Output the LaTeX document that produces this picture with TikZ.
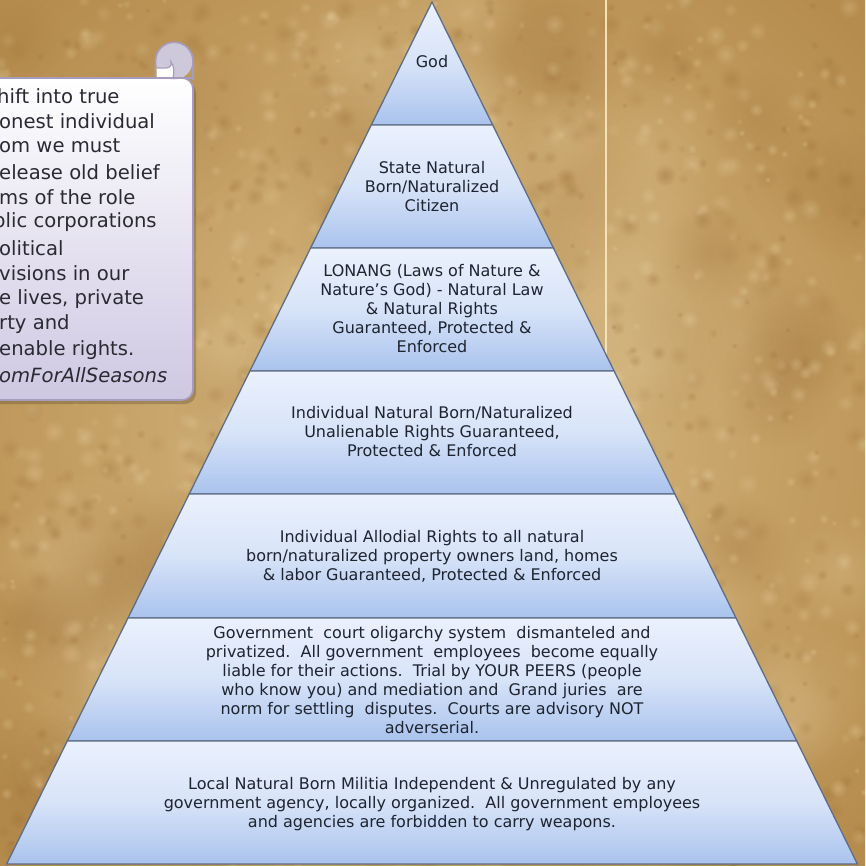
\documentclass[tikz,border=0pt]{standalone}
\usepackage{fontspec}
\setmainfont{DejaVu Sans}
\usetikzlibrary{fadings}
\tikzfading[name=softblob, inner color=transparent!0, outer color=transparent!100]
\definecolor{bgmid}{HTML}{CFAE70}
\definecolor{bgin}{HTML}{D9BD86}
\definecolor{bgout}{HTML}{B68C4E}
\definecolor{bgdark}{HTML}{94662F}
\definecolor{bglight}{HTML}{ECD7A6}
\definecolor{layertop}{HTML}{EBF1FD}
\definecolor{layerbot}{HTML}{A9C3ED}
\definecolor{layeredge}{HTML}{5E6D86}
\definecolor{pyrtext}{HTML}{1E2430}
\definecolor{scrolltop}{HTML}{FFFFFF}
\definecolor{scrollbot}{HTML}{CEC7E2}
\definecolor{scrolledge}{HTML}{A59CBE}
\definecolor{curlfill}{HTML}{CDC9DB}
\definecolor{scrolltext}{HTML}{2A2A32}
\definecolor{creamline}{HTML}{F1E2BC}
\tikzset{
  layerline/.style={draw=layeredge, line width=1.3pt, line join=miter},
  pyrlabel/.style={align=center, text=pyrtext, inner sep=0pt, font=\fontsize{16}{19}\selectfont},
  scrolllabel/.style={anchor=west, text=scrolltext, inner sep=0pt, font=\fontsize{19.6}{25}\selectfont},
  blob/.style={path fading=softblob},
}
\begin{document}
\begin{tikzpicture}[x=1pt,y=-1pt]
\useasboundingbox (0,0) rectangle (865,866);
\clip (0,0) rectangle (865,866);
% background parchment
\fill[bgmid] (0,0) rectangle (865,866);
\shade[inner color=bgin, outer color=bgout] (-150,-150) rectangle (1015,1016);
\pgfmathsetseed{7}
% large soft patches
\foreach \i in {1,...,60}{
  \pgfmathsetmacro{\bx}{rnd*865}
  \pgfmathsetmacro{\by}{rnd*866}
  \pgfmathsetmacro{\br}{40+rnd*60}
  \pgfmathsetmacro{\bo}{0.10+rnd*0.15}
  \fill[bgdark, opacity=\bo, blob] (\bx,\by) circle (\br pt);
}
\foreach \i in {1,...,50}{
  \pgfmathsetmacro{\bx}{rnd*865}
  \pgfmathsetmacro{\by}{rnd*866}
  \pgfmathsetmacro{\br}{40+rnd*60}
  \pgfmathsetmacro{\bo}{0.12+rnd*0.15}
  \fill[bglight, opacity=\bo, blob] (\bx,\by) circle (\br pt);
}
% fine mottle
\foreach \i in {1,...,700}{
  \pgfmathsetmacro{\bx}{rnd*865}
  \pgfmathsetmacro{\by}{rnd*866}
  \pgfmathsetmacro{\br}{3+rnd*9}
  \pgfmathsetmacro{\bo}{0.12+rnd*0.18}
  \fill[bgdark, opacity=\bo, blob] (\bx,\by) circle (\br pt);
}
\foreach \i in {1,...,700}{
  \pgfmathsetmacro{\bx}{rnd*865}
  \pgfmathsetmacro{\by}{rnd*866}
  \pgfmathsetmacro{\br}{3+rnd*9}
  \pgfmathsetmacro{\bo}{0.15+rnd*0.2}
  \fill[bglight, opacity=\bo, blob] (\bx,\by) circle (\br pt);
}
% vertical cream line
\coordinate (vtop) at (606,0);
\coordinate (vbot) at (606,360);
\draw[creamline, line width=1.8pt] (vtop) -- (vbot);

% scroll shadow
\fill[black, opacity=0.18, rounded corners=11pt] (-20,82) -- (196,82) -- (196,404) -- (-20,404) -- cycle;
% scroll body
\shade[top color=scrolltop, bottom color=scrollbot, rounded corners=11pt]
  (-20,78) -- (193,78) -- (193,400) -- (-20,400) -- cycle;
\draw[scrolledge, line width=1.6pt, rounded corners=11pt]
  (-20,78) -- (193,78) -- (193,400) -- (-20,400);
% curl
\fill[curlfill] (174,61) circle (18.5pt);
\draw[scrolledge, line width=1.6pt] (155.5,78) -- (155.5,61) arc[start angle=180, end angle=0, radius=18.75pt] -- (193,80);
\fill[white] (156.5,77.5) -- (156.5,68) -- (166,68) .. controls (170,68) and (172,65) .. (171,62)
  .. controls (174,66) and (174.5,72) .. (173,77.5) -- cycle;
\draw[scrolledge, line width=1.2pt] (156.5,68) -- (166,68) .. controls (170,68) and (172,65) .. (171,62)
  .. controls (174,66) and (174.5,72) .. (173,78);
\draw[scrolledge, line width=1.6pt] (-20,78) -- (193,78);

% scroll text
\node[scrolllabel] (s1) at (-3,96) {hift into true};
\node[scrolllabel] (s2) at (-1,121) {onest individual};
\node[scrolllabel] (s3) at (-1,146) {om we must};
\node[scrolllabel] (s4) at (-1,172) {elease old belief};
\node[scrolllabel] (s5) at (-1,197) {ms of the role};
\node[scrolllabel] (s6) at (-7,222) {blic corporations};
\node[scrolllabel] (s7) at (-1,248) {olitical};
\node[scrolllabel] (s8) at (-1,273) {visions in our};
\node[scrolllabel] (s9) at (-1,299) {e lives, private};
\node[scrolllabel] (s10) at (-1,324) {rty and};
\node[scrolllabel] (s11) at (-1,350) {enable rights.};
\node[scrolllabel, font=\fontsize{19.6}{25}\selectfont\itshape] (s12) at (-1,375) {omForAllSeasons};

% pyramid layers
\foreach \pa/\pb/\pc/\pd in {
  {(432,2)}/{(432,2)}/{(492.7,125)}/{(371.3,125)},
  {(371.3,125)}/{(492.7,125)}/{(553.4,248)}/{(310.6,248)},
  {(310.6,248)}/{(553.4,248)}/{(614.1,371)}/{(249.9,371)},
  {(249.9,371)}/{(614.1,371)}/{(674.8,494)}/{(189.2,494)},
  {(189.2,494)}/{(674.8,494)}/{(736,618)}/{(128,618)},
  {(128,618)}/{(736,618)}/{(796.7,741)}/{(67.3,741)},
  {(67.3,741)}/{(796.7,741)}/{(857.4,864)}/{(6.6,864)}}{
  \shade[top color=layertop, bottom color=layerbot, middle color=layertop!70!layerbot] \pa -- \pb -- \pc -- \pd -- cycle;
  \draw[layerline] \pa -- \pb -- \pc -- \pd -- cycle;
}

% pyramid texts
\node[pyrlabel] (l1) at (432,62) {God};
\node[pyrlabel] (l2) at (432,187) {State Natural\\Born/Naturalized\\Citizen};
\node[pyrlabel] (l3) at (432,309) {LONANG (Laws of Nature \&\\Nature's God) - Natural Law\\\& Natural Rights\\Guaranteed, Protected \&\\Enforced};
\node[pyrlabel] (l4) at (432,432) {Individual Natural Born/Naturalized\\Unalienable Rights Guaranteed,\\Protected \& Enforced};
\node[pyrlabel] (l5) at (432,556) {Individual Allodial Rights to all natural\\born/naturalized property owners land, homes\\\& labor Guaranteed, Protected \& Enforced};
\node[pyrlabel] (l6) at (432,680) {Government\ \ court oligarchy system\ \ dismanteled and\\privatized.\ \ All government\ \ employees\ \ become equally\\liable for their actions.\ \ Trial by YOUR PEERS (people\\who know you) and mediation and\ \ Grand juries\ \ are\\norm for settling\ \ disputes.\ \ Courts are advisory NOT\\adverserial.};
\node[pyrlabel] (l7) at (432,804) {Local Natural Born Militia Independent \& Unregulated by any\\government agency, locally organized.\ \ All government employees\\and agencies are forbidden to carry weapons.};
\end{tikzpicture}
\end{document}
